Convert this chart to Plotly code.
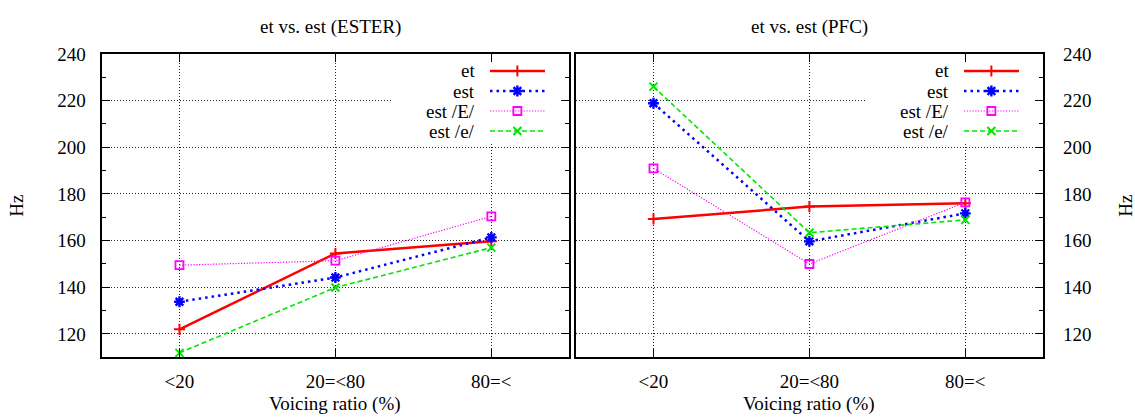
import plotly.graph_objects as go

# ---------------- data ----------------
categories = ["<20", "20=<80", "80=<"]
series_names = ["et", "est", "est /E/", "est /e/"]

ester_et = [122.0, 154.5, 159.7]
ester_est = [133.8, 144.2, 161.4]
ester_estE = [149.5, 151.4, 170.4]
ester_este = [111.9, 139.9, 157.0]

pfc_et = [169.3, 174.6, 176.0]
pfc_est = [218.9, 159.7, 171.7]
pfc_estE = [191.0, 150.0, 176.4]
pfc_este = [226.0, 163.4, 168.9]

y_ticks = [120, 140, 160, 180, 200, 220, 240]
panel_titles = ["et vs. est (ESTER)", "et vs. est (PFC)"]
x_title = "Voicing ratio (%)"
y_title = "Hz"

# ---------------- styles ----------------
W, H = 1135, 417
FONT = "'Liberation Serif', 'Times New Roman', 'DejaVu Serif', serif"
FS = 19
Y_RANGE = [110, 240]
X_RANGE = [-0.5, 2.5]

styles = [
    dict(color="#ff0000", width=2.5, dash="solid", symbol="cross-thin-open", size=8, mlw=2),
    dict(color="#0000ff", width=2.5, dash="2.5px,4px", symbol="asterisk-open", size=9, mlw=2.4),
    dict(color="#ff00ff", width=1.2, dash="1.2px,1.6px", symbol="square-open", size=8, mlw=1.8),
    dict(color="#00e600", width=1.6, dash="5px,3px", symbol="x-thin-open", size=8, mlw=2),
]

# panel geometry in pixels
left_px = [(101.5, 569.3), (575.5, 1043.3)]
top_px, bot_px = 54.0, 357.3
ydom = [1 - bot_px / H, 1 - top_px / H]

panels = [
    [ester_et, ester_est, ester_estE, ester_este],
    [pfc_et, pfc_est, pfc_estE, pfc_este],
]

fig = go.Figure()

for p, data in enumerate(panels):
    xa = "x" if p == 0 else "x2"
    ya = "y" if p == 0 else "y2"
    for name, vals, st in zip(series_names, data, styles):
        fig.add_trace(go.Scatter(
            x=categories, y=vals, name=name, mode="lines+markers",
            xaxis=xa, yaxis=ya, showlegend=False, cliponaxis=False,
            line=dict(color=st["color"], width=st["width"], dash=st["dash"]),
            marker=dict(symbol=st["symbol"], size=st["size"], color=st["color"],
                        line=dict(color=st["color"], width=st["mlw"])),
        ))

# legend geometry (fractions of each panel)
leg_text_x = 0.802
leg_line = (0.8305, 0.948)
leg_mark = 0.889
leg_rows = [0.944, 0.878, 0.812, 0.746]
leg_box = (0.621, 0.7066)

# legend sample traces on overlay axes
for p in range(2):
    xa = "x3" if p == 0 else "x4"
    ya = "y3" if p == 0 else "y4"
    for name, st, ry in zip(series_names, styles, leg_rows):
        fig.add_trace(go.Scatter(
            x=list(leg_line), y=[ry, ry], mode="lines", xaxis=xa, yaxis=ya,
            showlegend=False, cliponaxis=False, hoverinfo="skip",
            line=dict(color=st["color"], width=st["width"], dash=st["dash"]),
        ))
        fig.add_trace(go.Scatter(
            x=[leg_mark], y=[ry], mode="markers", xaxis=xa, yaxis=ya,
            showlegend=False, cliponaxis=False, hoverinfo="skip",
            marker=dict(symbol=st["symbol"], size=st["size"], color=st["color"],
                        line=dict(color=st["color"], width=st["mlw"])),
        ))

common_x = dict(
    type="category", categoryorder="array", categoryarray=categories,
    range=X_RANGE, showline=True, linecolor="black", linewidth=2,
    mirror="ticks", ticks="inside", ticklen=8, tickwidth=1.3, tickcolor="black",
    showgrid=True, gridcolor="#222", gridwidth=1, griddash="1px,2px",
    tickfont=dict(family=FONT, size=FS, color="black"), ticklabelstandoff=6,
    zeroline=False, fixedrange=True, automargin=False,
)
common_y = dict(
    range=Y_RANGE, tickvals=y_ticks, showline=True, linecolor="black", linewidth=2,
    ticks="inside", ticklen=8, tickwidth=1.3, tickcolor="black",
    minor=dict(dtick=10, tick0=0, ticks="inside", ticklen=4, tickwidth=1.3,
               tickcolor="black", showgrid=False),
    showgrid=True, gridcolor="#222", gridwidth=1, griddash="1px,2px",
    tickfont=dict(family=FONT, size=FS, color="black"),
    zeroline=False, fixedrange=True, automargin=False,
)
hidden = dict(range=[0, 1], visible=False, fixedrange=True, automargin=False)

fig.update_layout(
    template="none",
    width=W, height=H, margin=dict(l=0, r=0, t=0, b=0, pad=0),
    paper_bgcolor="white", plot_bgcolor="white",
    font=dict(family=FONT, size=FS, color="black"),
    xaxis=dict(common_x, domain=[left_px[0][0] / W, left_px[0][1] / W], anchor="y"),
    yaxis=dict(common_y, domain=ydom, anchor="x", mirror="ticks", ticklabelstandoff=10),
    xaxis2=dict(common_x, domain=[left_px[1][0] / W, left_px[1][1] / W], anchor="y2"),
    yaxis2=dict(common_y, domain=ydom, anchor="x2", side="right", mirror=True,
                ticklabelstandoff=14),
    xaxis3=dict(hidden, overlaying="x", anchor="y3"),
    yaxis3=dict(hidden, overlaying="y", anchor="x3"),
    xaxis4=dict(hidden, overlaying="x2", anchor="y4"),
    yaxis4=dict(hidden, overlaying="y2", anchor="x4"),
    showlegend=False,
)

shapes = []
annotations = []
for p in range(2):
    xr = "x" if p == 0 else "x2"
    yr = "y" if p == 0 else "y2"
    xr_dom = xr + " domain"
    yr_dom = yr + " domain"
    # white key box (in data coordinates of the panel, drawn between grid and traces)
    bx0 = X_RANGE[0] + leg_box[0] * (X_RANGE[1] - X_RANGE[0])
    by0 = Y_RANGE[0] + leg_box[1] * (Y_RANGE[1] - Y_RANGE[0])
    shapes.append(dict(type="rect", xref=xr, yref=yr, x0=bx0, x1=X_RANGE[1],
                       y0=by0, y1=Y_RANGE[1],
                       fillcolor="white", line=dict(width=0), layer="between"))
    for name, ry in zip(series_names, leg_rows):
        annotations.append(dict(text=name, xref=xr_dom, yref=yr_dom, x=leg_text_x, y=ry,
                                xanchor="right", yanchor="middle", showarrow=False,
                                font=dict(family=FONT, size=FS, color="black")))
    x0, x1 = left_px[p]
    cx = (x0 + x1) / 2
    tcx = cx - 5 if p == 0 else cx
    annotations.append(dict(text=panel_titles[p], xref="paper", yref="paper",
                            x=tcx / W, y=1 - 27 / H, xanchor="center", yanchor="middle",
                            showarrow=False, font=dict(family=FONT, size=FS, color="black")))
    annotations.append(dict(text=x_title, xref="paper", yref="paper",
                            x=cx / W, y=1 - 404 / H, xanchor="center", yanchor="middle",
                            showarrow=False, font=dict(family=FONT, size=FS, color="black")))

ymid = 1 - ((top_px + bot_px) / 2) / H
annotations.append(dict(text=y_title, xref="paper", yref="paper", x=17 / W, y=ymid,
                        xanchor="center", yanchor="middle", textangle=-90, showarrow=False,
                        font=dict(family=FONT, size=FS, color="black")))
annotations.append(dict(text=y_title, xref="paper", yref="paper", x=1126 / W, y=ymid,
                        xanchor="center", yanchor="middle", textangle=-90, showarrow=False,
                        font=dict(family=FONT, size=FS, color="black")))

fig.update_layout(shapes=shapes, annotations=annotations)

fig.write_html("out.html")
